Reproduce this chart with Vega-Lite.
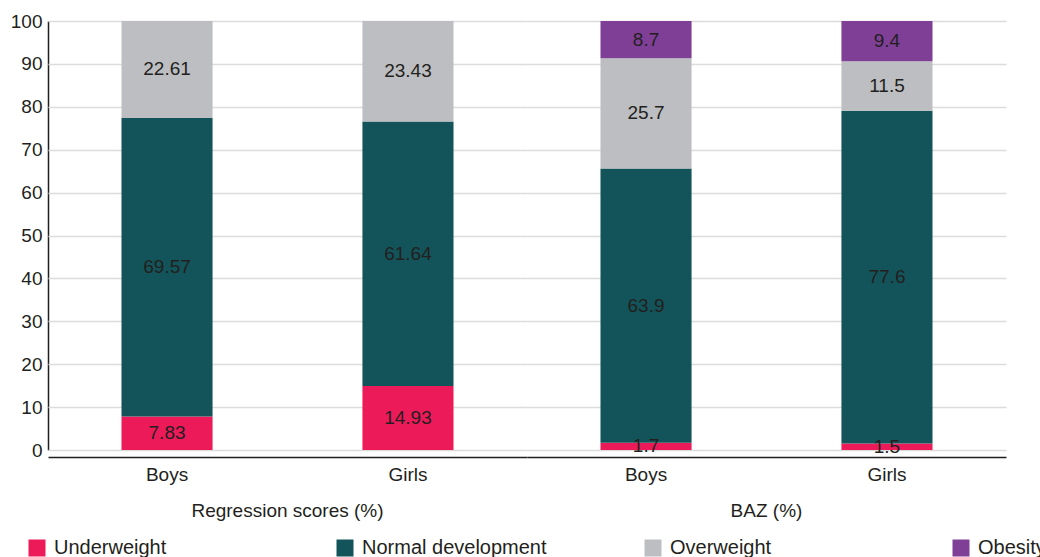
{
  "$schema": "https://vega.github.io/schema/vega-lite/v6.json",
  "padding": {"left": 10, "top": 12, "right": 0, "bottom": 0},
  "background": "white",
  "config": {
    "font": "Liberation Sans",
    "view": {"stroke": null},
    "axis": {"labelFont": "Liberation Sans", "labelFontSize": 19, "labelColor": "#231f20"},
    "legend": {"labelFont": "Liberation Sans", "labelFontSize": 20, "labelColor": "#231f20"},
    "header": {"labelFont": "Liberation Sans", "labelFontSize": 19, "labelColor": "#231f20"}
  },
  "data": {
    "values": [
      {"group": "Regression scores (%)", "sex": "Boys", "cat": "Underweight", "value": 7.83},
      {"group": "Regression scores (%)", "sex": "Boys", "cat": "Normal development", "value": 69.57},
      {"group": "Regression scores (%)", "sex": "Boys", "cat": "Overweight", "value": 22.61},
      {"group": "Regression scores (%)", "sex": "Girls", "cat": "Underweight", "value": 14.93},
      {"group": "Regression scores (%)", "sex": "Girls", "cat": "Normal development", "value": 61.64},
      {"group": "Regression scores (%)", "sex": "Girls", "cat": "Overweight", "value": 23.43},
      {"group": "BAZ (%)", "sex": "Boys", "cat": "Underweight", "value": 1.7},
      {"group": "BAZ (%)", "sex": "Boys", "cat": "Normal development", "value": 63.9},
      {"group": "BAZ (%)", "sex": "Boys", "cat": "Overweight", "value": 25.7},
      {"group": "BAZ (%)", "sex": "Boys", "cat": "Obesity", "value": 8.7},
      {"group": "BAZ (%)", "sex": "Girls", "cat": "Underweight", "value": 1.5},
      {"group": "BAZ (%)", "sex": "Girls", "cat": "Normal development", "value": 77.6},
      {"group": "BAZ (%)", "sex": "Girls", "cat": "Overweight", "value": 11.5},
      {"group": "BAZ (%)", "sex": "Girls", "cat": "Obesity", "value": 9.4}
    ]
  },
  "transform": [
    {"calculate": "indexof(['Underweight','Normal development','Overweight','Obesity'], datum.cat)", "as": "ord"},
    {"window": [{"op": "sum", "field": "value", "as": "cum"}], "groupby": ["group", "sex"], "sort": [{"field": "ord", "order": "ascending"}], "frame": [null, 0]},
    {"calculate": "datum.cum - datum.value", "as": "start"},
    {"calculate": "datum.cum - datum.value / 2", "as": "mid"}
  ],
  "facet": {
    "column": {
      "field": "group",
      "type": "nominal",
      "sort": ["Regression scores (%)", "BAZ (%)"],
      "title": null,
      "header": {"labelOrient": "bottom", "labelPadding": 18}
    }
  },
  "spacing": 0,
  "spec": {
    "width": 479,
    "height": 429,
    "encoding": {
      "x": {
        "field": "sex",
        "type": "nominal",
        "sort": ["Boys", "Girls"],
        "scale": {"paddingInner": 0.622, "paddingOuter": 0.305},
        "axis": {"title": null, "labelAngle": 0, "ticks": false, "domainColor": "#231f20", "domainWidth": 1.5, "labelPadding": 8}
      }
    },
    "layer": [
      {
        "mark": {"type": "bar"},
        "encoding": {
          "y": {
            "field": "start",
            "type": "quantitative",
            "scale": {"domain": [0, 100], "nice": false},
            "axis": {"title": null, "values": [0,10,20,30,40,50,60,70,80,90,100], "ticks": false, "domainColor": "#231f20", "domainWidth": 1.5, "gridColor": "#dcdcdc", "gridWidth": 1.5, "labelPadding": 6}
          },
          "y2": {"field": "cum"},
          "color": {
            "field": "cat",
            "type": "nominal",
            "scale": {
              "domain": ["Underweight", "Normal development", "Overweight", "Obesity"],
              "range": ["#ED1A5A", "#125459", "#BDBEC1", "#7F3F97"]
            },
            "legend": {
              "title": null,
              "orient": "none",
              "legendX": -21,
              "legendY": 517,
              "direction": "horizontal",
              "columns": 4,
              "gridAlign": "all",
              "columnPadding": 96,
              "labelLimit": 400,
              "symbolType": "square",
              "symbolSize": 289,
              "symbolStrokeWidth": 0,
              "labelOffset": 7
            }
          }
        }
      },
      {
        "mark": {"type": "text", "fontSize": 19, "color": "#231f20", "baseline": "middle"},
        "encoding": {
          "y": {"field": "mid", "type": "quantitative"},
          "text": {"field": "value", "type": "quantitative"}
        }
      }
    ]
  }
}
